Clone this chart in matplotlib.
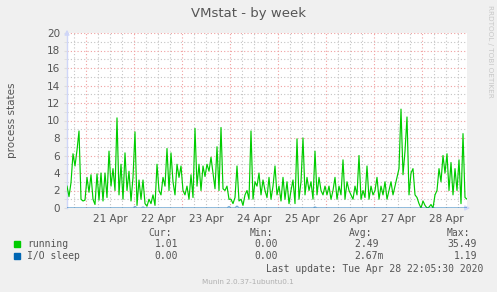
import numpy as np
import matplotlib
matplotlib.use("Agg")
import matplotlib.pyplot as plt
from matplotlib.ticker import MultipleLocator
from matplotlib.transforms import blended_transform_factory

# hourly samples, first one at 20 Apr 14:30 (hours counted from 21 Apr 00:00)
start_hour = -9.5
running = [
    2.5, 1.3, 2.9, 6.2, 4.8, 6.6, 8.8, 1.0, 0.8, 0.9,
    3.5, 1.8, 3.8, 1.0, 0.4, 3.9, 0.9, 4.0, 0.8, 4.0, 1.2, 6.5,
    2.5, 4.5, 2.0, 10.3, 1.5, 5.0, 1.0, 6.3, 2.0, 4.2, 0.8, 3.5,
    8.7, 0.3, 3.2, 1.0, 3.2, 0.5, 0.2, 1.0, 0.5, 1.5, 0.3, 5.0,
    2.0, 1.5, 3.5, 2.5, 6.8, 2.0, 6.3, 3.0, 1.5, 5.0, 3.5, 4.8,
    2.0, 1.5, 2.5, 1.0, 3.8, 1.2, 9.1, 2.5, 5.0, 2.0, 4.8, 3.6,
    5.0, 4.2, 5.8, 4.0, 2.2, 7.0, 2.0, 9.2, 2.2, 2.0, 2.5, 1.0,
    1.0, 0.5, 1.2, 4.8, 0.8, 1.0, 0.3, 1.5, 2.0, 1.0, 8.8, 1.0,
    3.0, 2.5, 4.0, 1.5, 3.2, 2.0, 1.2, 3.5, 1.0, 2.5, 4.8, 1.5,
    2.5, 0.8, 3.5, 1.0, 3.0, 0.5, 2.0, 3.2, 0.5, 7.9, 1.0, 3.0,
    8.0, 1.5, 3.5, 2.0, 3.0, 1.0, 6.5, 1.5, 3.5, 2.0, 1.5, 2.5,
    1.5, 2.5, 1.0, 2.0, 3.5, 1.0, 2.5, 1.5, 5.5, 1.0, 3.0, 2.0,
    1.5, 1.0, 2.5, 1.5, 6.0, 1.0, 2.0, 1.2, 4.8, 1.0, 2.5, 1.5,
    2.0, 3.5, 1.0, 2.5, 1.5, 3.0, 1.0, 2.0, 3.0, 1.5, 2.5, 3.5,
    4.5, 11.3, 3.8, 6.5, 10.4, 1.5, 4.0, 4.5, 1.5, 1.2, 0.5, 0.0,
    0.8, 0.3, 0.0, 0.1, 0.4, 0.0, 1.5, 2.0, 4.5, 3.0, 6.0, 4.0,
    6.2, 2.0, 5.2, 1.5, 4.5, 2.0, 5.5, 0.5, 8.5, 1.2, 1.01,
]
io_sleep = [
    0, 0, 0, 0, 0, 0, 0, 0, 0, 0,
    0, 0, 0, 0, 0, 0, 0, 0, 0, 0, 0, 0, 0, 0, 0, 0, 0, 0, 0, 0, 0, 0, 0, 0,
    0.15, 0, 0, 0, 0.1, 0, 0, 0, 0, 0, 0, 0, 0, 0, 0, 0, 0, 0, 0, 0, 0, 0, 0, 0,
    0, 0, 0, 0, 0, 0, 0, 0, 0, 0, 0, 0, 0, 0, 0, 0, 0, 0, 0, 0, 0, 0, 0, 0.15,
    0, 0, 0, 0.2, 0, 0, 0, 0, 0, 0, 0, 0, 0, 0, 0, 0, 0, 0, 0, 0, 0, 0, 0, 0,
    0, 0, 0, 0, 0, 0, 0, 0, 0, 0, 0, 0, 0, 0, 0, 0, 0, 0, 0.1, 0, 0, 0, 0, 0,
    0, 0, 0, 0, 0, 0, 0, 0, 0, 0, 0, 0, 0, 0, 0, 0, 0, 0, 0, 0, 0, 0, 0, 0,
    0, 0, 0, 0, 0, 0, 0, 0, 0, 0, 0, 0, 0, 0, 0, 0, 0, 0, 0, 0, 0, 0, 0, 0,
    0, 0, 0, 0, 0, 0, 0, 0, 0, 0, 0, 0, 0, 0, 0, 0, 0, 0, 0, 0, 0, 0, 0,
]
day_labels = ["21 Apr", "22 Apr", "23 Apr", "24 Apr",
              "25 Apr", "26 Apr", "27 Apr", "28 Apr"]
series_names = ["running", "I/O sleep"]
series_colors = ["#00cc00", "#0066b3"]
cur_vals = ["1.01", "0.00"]
min_vals = ["0.00", "0.00"]
avg_vals = ["2.49 ", "2.67m"]
max_vals = ["35.49", "1.19"]

W, H = 497, 292
fig = plt.figure(figsize=(W / 100, H / 100), dpi=100, facecolor="#f0f0f0")
ax = fig.add_axes([67 / W, 1 - 208 / H, 400 / W, 175 / H])
ax.set_facecolor("white")

hours = start_hour + np.arange(len(running))
ax.plot(hours, running, color=series_colors[0], lw=0.85, zorder=3)
ax.plot(hours, io_sleep, color=series_colors[1], lw=1.1, alpha=0.55, zorder=4)

ax.set_xlim(start_hour, start_hour + 200)
ax.set_ylim(0, 20)

ax.xaxis.set_major_locator(MultipleLocator(24))
ax.xaxis.set_minor_locator(MultipleLocator(6))
ax.yaxis.set_major_locator(MultipleLocator(2))
ax.yaxis.set_minor_locator(MultipleLocator(1))
ax.grid(which="major", color="#f0a0a0", linestyle=(0, (1, 2)), lw=0.8, zorder=1)
ax.grid(which="minor", color="#c4c4c4", linestyle=(0, (1, 2)), lw=0.8, zorder=0)
ax.set_xticklabels([])
ax.tick_params(axis="x", which="both", length=0)
ax.tick_params(axis="y", which="both", length=2, color="#dddddd",
               labelsize=7.5, labelcolor="#555555", pad=3)

for s in ["top", "right", "bottom"]:
    ax.spines[s].set_visible(False)
ax.spines["left"].set_color("#cfd6f8")
ax.spines["left"].set_linewidth(1)

# rrdtool style arrows on the axes
ax.annotate("", xy=(0, 1.035), xytext=(0, 0.98), xycoords="axes fraction",
            arrowprops=dict(arrowstyle="-|>", color="#cfd6f8", lw=1,
                            mutation_scale=7), annotation_clip=False)
ax.annotate("", xy=(1.015, 0), xytext=(0.99, 0), xycoords="axes fraction",
            arrowprops=dict(arrowstyle="-|>", color="#cfd6f8", lw=1,
                            mutation_scale=7), annotation_clip=False)

trans = blended_transform_factory(ax.transData, ax.transAxes)
for i, lab in enumerate(day_labels):
    ax.text(12 + 24 * i, -0.035, lab, transform=trans, ha="center", va="top",
            fontsize=7.5, color="#555555")

fig.text(249 / W, 1 - 14 / H, "VMstat - by week", ha="center", va="center",
         fontsize=9.5, color="#555555")
fig.text(12 / W, 1 - 120 / H, "process states", rotation=90, ha="center",
         va="center", fontsize=7.5, color="#555555")
fig.text(490 / W, 1 - 5 / H, "RRDTOOL / TOBI OETIKER", rotation=270,
         ha="center", va="top", fontsize=5.2, color="#c8c8c8")

mono = "DejaVu Sans Mono"
fs = 7
tc = "#555555"
hy = 1 - 233 / H
for txt, xr in [("Cur:", 172), ("Min:", 273), ("Avg:", 372), ("Max:", 470)]:
    fig.text(xr / W, hy, txt, ha="right", va="center", family=mono,
             fontsize=fs, color=tc)
for i, name in enumerate(series_names):
    y = 1 - (244 + 12 * i) / H
    fig.patches.append(plt.Rectangle((14 / W, y - 2.5 / H), 5.5 / W, 5.5 / H,
                                     transform=fig.transFigure,
                                     color=series_colors[i]))
    fig.text(27 / W, y, name, ha="left", va="center", family=mono,
             fontsize=fs, color=tc)
    fig.text(178 / W, y, cur_vals[i], ha="right", va="center", family=mono,
             fontsize=fs, color=tc)
    fig.text(278 / W, y, min_vals[i], ha="right", va="center", family=mono,
             fontsize=fs, color=tc)
    fig.text(384 / W, y, avg_vals[i], ha="right", va="center", family=mono,
             fontsize=fs, color=tc)
    fig.text(477 / W, y, max_vals[i], ha="right", va="center", family=mono,
             fontsize=fs, color=tc)

fig.text(483 / W, 1 - 269 / H, "Last update: Tue Apr 28 22:05:30 2020",
         ha="right", va="center", family=mono, fontsize=fs, color=tc)
fig.text(248 / W, 1 - 282 / H, "Munin 2.0.37-1ubuntu0.1", ha="center",
         va="center", fontsize=5.2, color="#b0b0b0")

fig.savefig("out.png", dpi=100, facecolor=fig.get_facecolor())
